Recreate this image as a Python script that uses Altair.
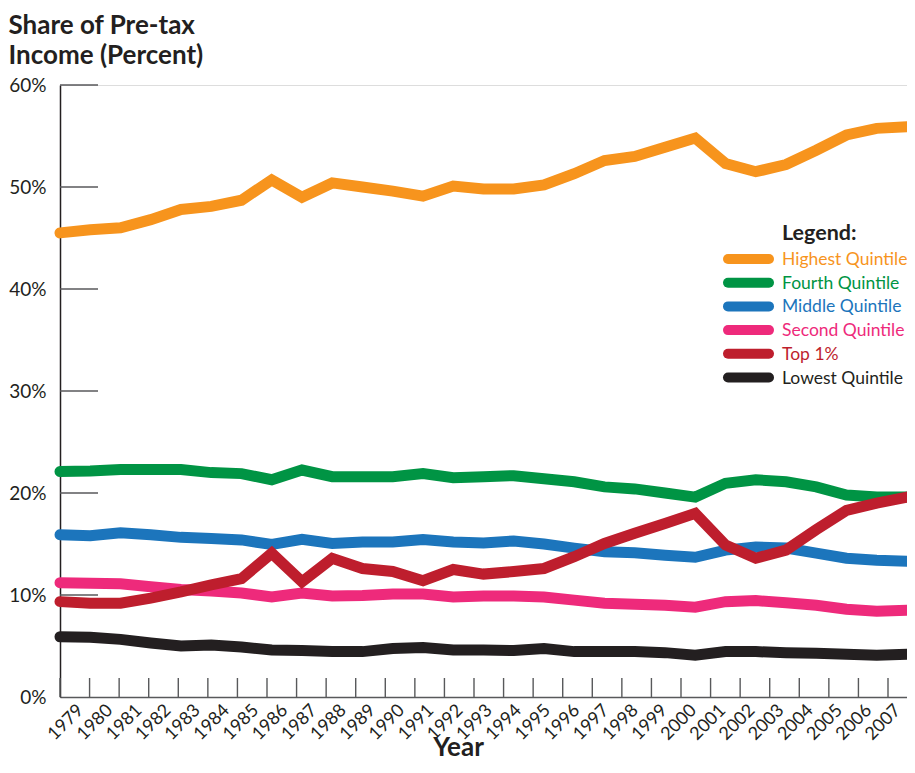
import altair as alt
import pandas as pd

# ---------------- data ----------------
years = list(range(1979, 2008))
series_names = ["Highest Quintile", "Fourth Quintile", "Middle Quintile",
                "Second Quintile", "Top 1%", "Lowest Quintile"]
series_colors = ["#F7941D", "#009444", "#1C75BC", "#EE2A7B", "#BE1E2D", "#231F20"]

highest = [45.5, 45.8, 46.0, 46.8, 47.8, 48.1, 48.7, 50.7, 49.0, 50.4,
           50.0, 49.6, 49.1, 50.1, 49.8, 49.8, 50.2, 51.3, 52.6, 53.0,
           53.9, 54.8, 52.3, 51.5, 52.2, 53.6, 55.1, 55.75, 55.9]
fourth = [22.1, 22.15, 22.3, 22.3, 22.3, 22.0, 21.9, 21.3, 22.25, 21.6,
          21.6, 21.6, 21.9, 21.5, 21.6, 21.7, 21.4, 21.1, 20.6, 20.4,
          20.0, 19.6, 20.95, 21.3, 21.1, 20.6, 19.8, 19.6, 19.6]
middle = [15.9, 15.8, 16.1, 15.9, 15.65, 15.55, 15.4, 14.95, 15.45, 15.05,
          15.2, 15.2, 15.45, 15.2, 15.1, 15.3, 15.0, 14.6, 14.25, 14.15,
          13.9, 13.7, 14.4, 14.7, 14.6, 14.1, 13.6, 13.4, 13.3]
second = [11.2, 11.15, 11.1, 10.8, 10.55, 10.4, 10.2, 9.8, 10.2, 9.9,
          9.95, 10.1, 10.1, 9.8, 9.9, 9.9, 9.8, 9.5, 9.2, 9.1,
          9.0, 8.8, 9.35, 9.45, 9.25, 9.0, 8.6, 8.4, 8.5]
top1 = [9.35, 9.2, 9.2, 9.7, 10.3, 11.0, 11.6, 14.1, 11.3, 13.6,
        12.6, 12.3, 11.4, 12.5, 12.05, 12.3, 12.6, 13.75, 15.05, 16.05,
        17.0, 18.0, 14.9, 13.6, 14.4, 16.4, 18.3, 19.0, 19.6]
lowest = [5.9, 5.85, 5.65, 5.3, 5.0, 5.1, 4.9, 4.6, 4.55, 4.45,
          4.45, 4.75, 4.85, 4.6, 4.6, 4.55, 4.75, 4.45, 4.45, 4.45,
          4.35, 4.1, 4.45, 4.45, 4.35, 4.3, 4.2, 4.1, 4.2]
y_tick_values = [0, 10, 20, 30, 40, 50, 60]

series_values = [highest, fourth, middle, second, top1, lowest]
rows = []
for name, arr in zip(series_names, series_values):
    for yr, v in zip(years, arr):
        rows.append({"year": yr, "share": v, "series": name})
df = pd.DataFrame(rows)

# ---------------- style ----------------
W, H = 847, 612
FONT = "Lato"
INK = "#231F20"
GREY = "#58595B"

color_scale = alt.Scale(domain=series_names, range=series_colors)
x_data_scale = alt.Scale(domain=[1979, 2007], nice=False, zero=False)
# axis ticks in the original are spaced slightly tighter than the data points
x_tick_scale = alt.Scale(domain=[1979, 1979 + 28 * W / 828], nice=False, zero=False)
y_scale = alt.Scale(domain=[0, 60], nice=False, zero=True)
leg_scale = alt.Scale(domain=[0, 5], range=[174, 174 + 5 * 23.7], nice=False, zero=False)

y_axis = alt.Axis(
    orient="left",
    values=y_tick_values, labelExpr="datum.value + '%'", ticks=False, grid=False,
    domainColor=INK, domainWidth=1.5, labelFont=FONT, labelFontSize=19,
    labelColor=INK, labelPadding=14,
    title=["Share of Pre-tax", "Income (Percent)"], titleAngle=0, titleAlign="left",
    titleBaseline="alphabetic", titleX=-52, titleY=-52, titleFont=FONT,
    titleFontSize=26, titleFontWeight="bold", titleColor=INK, titleLineHeight=30,
)

x_axis = alt.Axis(
    orient="bottom",
    values=years, format="d", ticks=False, grid=False, domainColor=GREY,
    domainWidth=1.5, labelAngle=-45, labelAlign="right", labelBaseline="top",
    labelOffset=alt.ExprRef(expr="14 - 0.38 * (datum.value - 1979)"),
    labelPadding=4, labelFont=FONT, labelFontSize=18,
    labelColor=INK, labelOverlap=False, labelFlush=False,
    title="Year", titleFont=FONT, titleFontSize=26, titleFontWeight="bold",
    titleColor=INK, titleX=398, titleY=58, titleAlign="center",
    titleBaseline="alphabetic",
)

base = alt.Chart(df)

draw_order = ["Lowest Quintile", "Second Quintile", "Middle Quintile",
              "Fourth Quintile", "Highest Quintile", "Top 1%"]
line_layers = []
for i, name in enumerate(draw_order):
    line_layers.append(
        base.transform_filter(alt.datum.series == name).mark_line(
            strokeWidth=11, strokeCap="round", strokeJoin="miter"
        ).encode(
            x=alt.X("year:Q", scale=x_data_scale, axis=None),
            y=alt.Y("share:Q", scale=y_scale, axis=y_axis if i == 0 else None),
            color=alt.Color("series:N", scale=color_scale, legend=None),
        )
    )

# y tick marks (pointing into the plot)
ytick_df = pd.DataFrame({"v": y_tick_values[1:]})
y_ticks = alt.Chart(ytick_df).mark_rule(color=GREY, strokeWidth=1.4).encode(
    y=alt.Y("v:Q", scale=y_scale, axis=None),
    x=alt.value(0), x2=alt.value(38),
)

# x tick marks (pointing up into the plot) + the x axis
xtick_df = pd.DataFrame({"year": years})
x_ticks = alt.Chart(xtick_df).mark_rule(color=GREY, strokeWidth=1.4).encode(
    x=alt.X("year:Q", scale=x_tick_scale, axis=x_axis),
    y=alt.value(H), y2=alt.value(H - 19),
)

# legend (drawn by hand)
leg_df = pd.DataFrame({"series": series_names, "idx": list(range(len(series_names)))})
leg_base = alt.Chart(leg_df)
leg_swatch = leg_base.mark_rule(strokeWidth=10, strokeCap="round").encode(
    x=alt.value(668), x2=alt.value(709),
    y=alt.Y("idx:Q", scale=leg_scale, axis=None),
    color=alt.Color("series:N", scale=color_scale, legend=None),
)
leg_text = leg_base.mark_text(align="left", baseline="middle", font=FONT,
                              fontSize=17.5, dy=1).encode(
    x=alt.value(722),
    y=alt.Y("idx:Q", scale=leg_scale, axis=None),
    text="series:N",
    color=alt.Color("series:N", scale=color_scale, legend=None),
)
leg_title = alt.Chart(pd.DataFrame({"t": ["Legend:"]})).mark_text(
    align="left", baseline="alphabetic", font=FONT, fontSize=21.5,
    fontWeight="bold", color=INK,
).encode(x=alt.value(722), y=alt.value(155), text="t:N")

chart = alt.layer(
    *line_layers, y_ticks, x_ticks, leg_swatch, leg_text, leg_title
).resolve_scale(x="independent", y="independent").properties(
    width=W, height=H,
    padding={"left": 52, "top": 77, "right": 0, "bottom": 65},
    autosize=alt.AutoSizeParams(type="none"),
).configure_view(stroke=None).configure(background="white")

chart.save("out.html", embed_options={"renderer": "svg", "actions": False})
